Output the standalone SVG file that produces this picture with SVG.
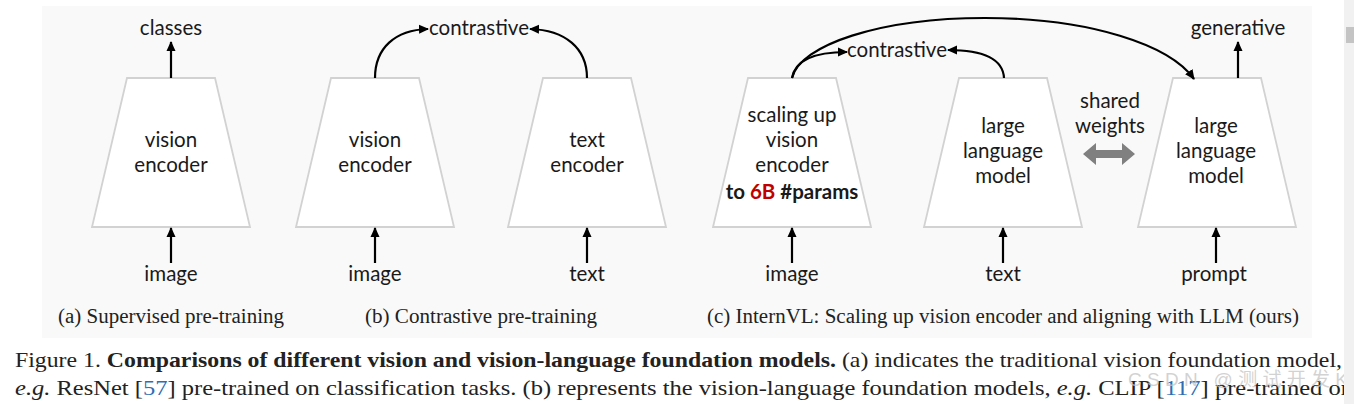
<svg xmlns="http://www.w3.org/2000/svg" width="1354" height="404" viewBox="0 0 1354 404">
<defs>
<marker id="ah" viewBox="0 0 10 10" refX="9" refY="5" markerWidth="10" markerHeight="10" markerUnits="userSpaceOnUse" orient="auto">
<path d="M0,0.5 L10,5 L0,9.5 Z" fill="#000"/>
</marker>
<style>
.trap{fill:#fff;stroke:#d2d2d2;stroke-width:1.8}
.lbl{font-family:Lato,"Open Sans","Liberation Sans",sans-serif;font-size:20.5px;fill:#1a1a1a;text-anchor:middle}
.bold{font-weight:bold}
.con{fill:none;stroke:#000;stroke-width:2.2;marker-end:url(#ah)}
.cap{font-family:"Liberation Serif","Times New Roman",serif;font-size:21px;fill:#222}
.sub{font-size:20.5px}
.cite{fill:#2e6db4}
</style>
</defs>
<rect x="0" y="0" width="1354" height="404" fill="#fff"/>
<rect x="42" y="6" width="1270" height="332" fill="#f9f9f9"/>

<g id="node-a-encoder">
<polygon class="trap" points="127,78 215,78 250,227 92,227"/>
<text class="lbl" x="171" y="147">vision</text>
<text class="lbl" x="171" y="172">encoder</text>
</g>
<g id="label-classes"><text class="lbl" x="171" y="35">classes</text></g>
<g id="label-a-image"><text class="lbl" x="171" y="281">image</text></g>

<g id="node-b-vision">
<polygon class="trap" points="331,78 419,78 454,227 296,227"/>
<text class="lbl" x="375" y="147">vision</text>
<text class="lbl" x="375" y="172">encoder</text>
</g>
<g id="node-b-text">
<polygon class="trap" points="543,78 631,78 666,227 508,227"/>
<text class="lbl" x="587" y="147">text</text>
<text class="lbl" x="587" y="172">encoder</text>
</g>
<g id="label-b-contrastive"><text class="lbl" x="479" y="35">contrastive</text></g>
<g id="label-b-image"><text class="lbl" x="375" y="281">image</text></g>
<g id="label-b-text"><text class="lbl" x="587" y="281">text</text></g>

<g id="node-c-vision">
<polygon class="trap" points="748,78 836,78 871,227 713,227"/>
<text class="lbl" x="792" y="122">scaling up</text>
<text class="lbl" x="792" y="147">vision</text>
<text class="lbl" x="792" y="172">encoder</text>
<text class="lbl bold" x="792" y="199">to <tspan fill="#c00000">6B</tspan> #params</text>
</g>
<g id="node-c-llm1">
<polygon class="trap" points="959,78 1047,78 1082,227 924,227"/>
<text class="lbl" x="1003" y="133">large</text>
<text class="lbl" x="1003" y="158">language</text>
<text class="lbl" x="1003" y="183">model</text>
</g>
<g id="node-c-llm2">
<polygon class="trap" points="1173,78 1261,78 1296,227 1138,227"/>
<text class="lbl" x="1216" y="133">large</text>
<text class="lbl" x="1216" y="158">language</text>
<text class="lbl" x="1216" y="183">model</text>
</g>
<g id="label-c-contrastive"><text class="lbl" x="897" y="57">contrastive</text></g>
<g id="label-generative"><text class="lbl" x="1238" y="35">generative</text></g>
<g id="label-shared">
<text class="lbl" x="1110" y="108">shared</text>
<text class="lbl" x="1110" y="133">weights</text>
</g>
<g id="label-c-image"><text class="lbl" x="792" y="281">image</text></g>
<g id="label-c-text"><text class="lbl" x="1003" y="281">text</text></g>
<g id="label-c-prompt"><text class="lbl" x="1214" y="281">prompt</text></g>

<g id="connectors">
<path class="con" d="M171,78 V42"/>
<path class="con" d="M171,263 V228"/>
<path class="con" d="M375,263 V228"/>
<path class="con" d="M587,263 V228"/>
<path class="con" d="M792,263 V228"/>
<path class="con" d="M1003,263 V228"/>
<path class="con" d="M1216,263 V228"/>
<path class="con" d="M1238,78 V42"/>
<path class="con" d="M375,78 C375,48 395,30 428,29"/>
<path class="con" d="M587,78 C587,48 565,30 530,29"/>
<path class="con" d="M792,78 C795,60 815,52 847,52"/>
<path class="con" d="M1004,78 C1003,60 985,50 948,50"/>
<path class="con" d="M792,78 C800,45 880,18 985,18 C1090,18 1170,45 1194,79"/>
<polygon id="shared-arrow" points="1083,154 1096,143 1096,150 1122,150 1122,143 1135,154 1122,165 1122,158 1096,158 1096,165" fill="#808080"/>
</g>

<g id="subcaptions">
<text class="cap sub" x="58" y="323" textLength="226" lengthAdjust="spacingAndGlyphs">(a) Supervised pre-training</text>
<text class="cap sub" x="365" y="323" textLength="232" lengthAdjust="spacingAndGlyphs">(b) Contrastive pre-training</text>
<text class="cap sub" x="707" y="323" textLength="592" lengthAdjust="spacingAndGlyphs">(c) InternVL: Scaling up vision encoder and aligning with LLM (ours)</text>
</g>

<g id="figure-caption">
<text class="cap" x="15" y="367" textLength="1327" lengthAdjust="spacingAndGlyphs">Figure 1. <tspan font-weight="bold">Comparisons of different vision and vision-language foundation models.</tspan> (a) indicates the traditional vision foundation model,</text>
<text class="cap" x="15" y="395" textLength="1338" lengthAdjust="spacingAndGlyphs"><tspan font-style="italic">e.g.</tspan> ResNet [<tspan class="cite">57</tspan>] pre-trained on classification tasks. (b) represents the vision-language foundation models, <tspan font-style="italic">e.g.</tspan> CLIP [<tspan class="cite">117</tspan>] pre-trained on</text>
</g>

<g id="watermark">
<text x="1128" y="386" textLength="220" lengthAdjust="spacing" font-family="'Liberation Sans','Noto Sans CJK SC',sans-serif" font-size="19" fill="#c4c4c4" fill-opacity="0.75">CSDN @测试开发K</text>
</g>

<g id="scrollbar">
<rect x="1344" y="0" width="10" height="404" fill="#f1f1f1"/>
<rect x="1346" y="27" width="8" height="16" fill="#c4c4c4"/>
</g>
</svg>
